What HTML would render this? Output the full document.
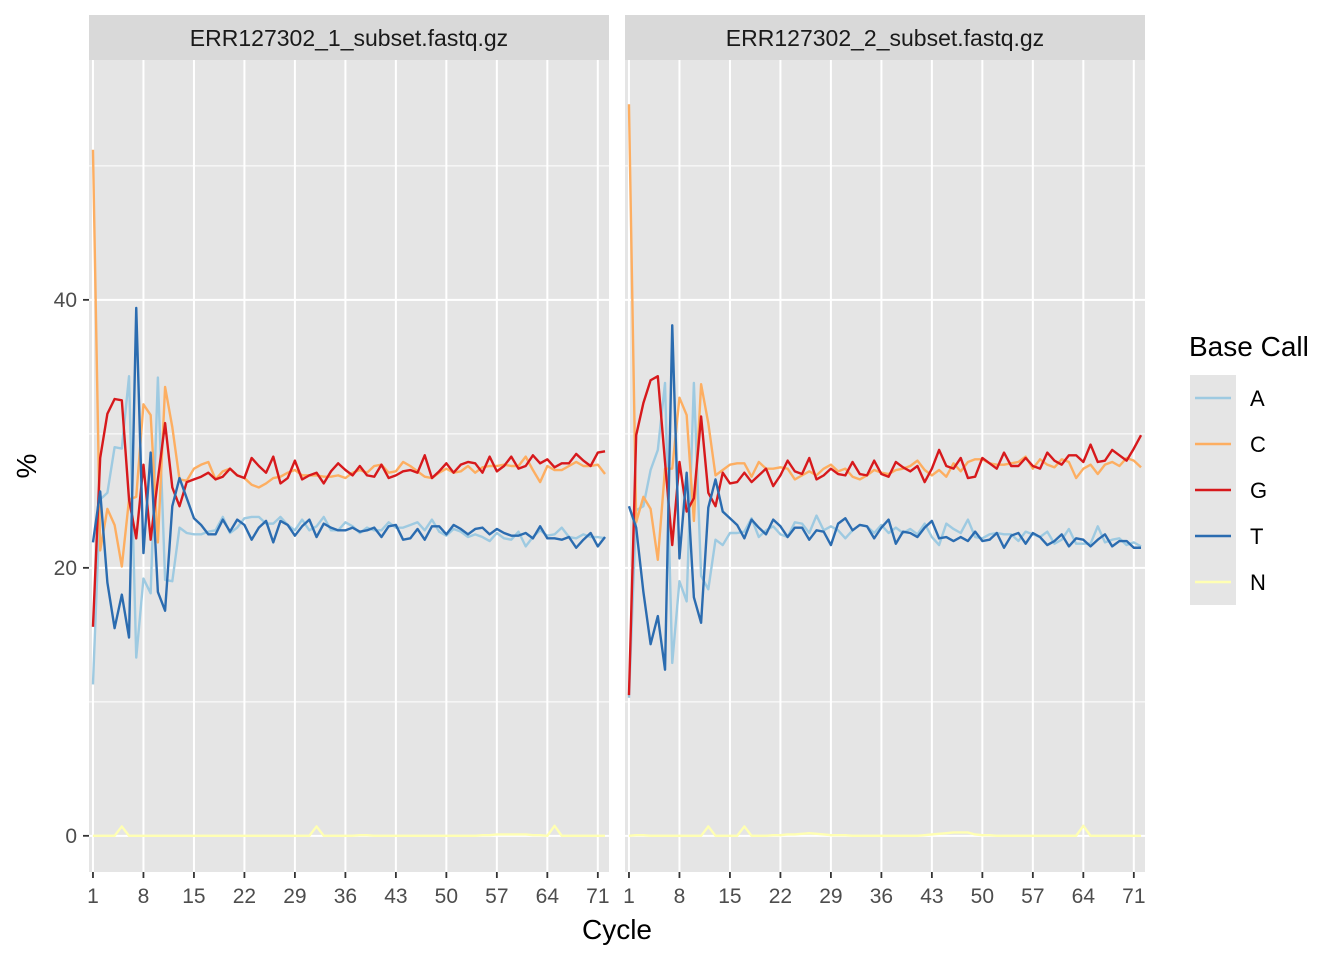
<!DOCTYPE html>
<html><head><meta charset="utf-8"><style>
body{margin:0;background:#fff;}
svg{display:block;font-family:"Liberation Sans",Arial,sans-serif;}
</style></head><body>
<svg id="chart" width="1344" height="960"></svg>
<script>
const cycles = Array.from({length:72},(_,i)=>i+1);
const panelTitles = ["ERR127302_1_subset.fastq.gz","ERR127302_2_subset.fastq.gz"];
const bases = ["A","C","G","T","N"];
const colors = ["#9ecae1","#fdae61","#d7191c","#2b6cb0","#ffffb3"];
const yTicks = [0,20,40];
const yMinor = [10,30,50];
const xTicks = [1,8,15,22,29,36,43,50,57,64,71];

const leftA = [11.3,25.1,25.6,29.0,28.9,34.3,13.3,19.2,18.1,34.2,19.1,19.0,23.0,22.6,22.5,22.5,22.7,
22.8,23.8,22.6,23.0,23.7,23.8,23.8,23.3,23.3,23.8,23.2,22.8,23.6,22.8,23.1,23.8,22.8,22.8,23.4,23.1,22.6,23.0,22.8,22.8,23.4,23.0,23.0,
23.2,23.4,22.8,23.6,22.7,22.4,22.9,22.7,22.3,22.5,22.3,22.0,22.6,22.2,22.1,22.7,21.6,22.3,22.8,22.4,22.5,23.0,22.3,22.2,22.5,22.3,22.3,22.2];
const leftC = [51.2,21.3,24.4,23.2,20.1,25.1,25.3,32.2,31.4,21.9,33.5,30.5,26.6,26.5,27.4,27.7,27.9,
26.6,27.2,27.4,26.9,26.7,26.2,26.0,26.3,26.7,26.8,27.1,27.3,26.9,26.9,26.9,26.8,26.8,26.9,26.7,27.1,27.3,27.1,27.6,27.7,27.1,27.2,27.9,
27.6,27.2,26.8,26.7,27.1,27.4,27.1,27.2,27.6,27.1,27.5,27.6,27.6,27.7,27.6,27.6,28.3,27.3,26.4,27.6,27.3,27.3,27.6,27.9,27.6,27.6,27.7,27.0];
const leftG = [15.6,28.2,31.5,32.6,32.5,25.1,22.2,27.7,22.1,26.6,30.8,26.0,24.6,26.4,26.6,26.8,27.1,
26.6,26.8,27.4,26.9,26.7,28.2,27.6,27.1,28.3,26.3,26.7,28.0,26.6,26.9,27.1,26.3,27.2,27.8,27.3,26.9,27.6,26.9,26.8,27.7,26.7,26.9,27.2,
27.3,27.1,28.4,26.7,27.2,27.8,27.1,27.7,27.9,27.8,27.1,28.3,27.2,27.6,28.3,27.4,27.6,28.4,27.8,28.1,27.5,27.8,27.8,28.5,28.0,27.6,28.6,28.7];
const leftT = [21.9,25.7,18.9,15.5,18.0,14.8,39.4,21.1,28.6,18.2,16.8,24.6,26.7,25.2,23.7,23.2,22.5,
22.5,23.6,22.7,23.6,23.2,22.1,23.0,23.5,21.9,23.5,23.2,22.4,23.1,23.6,22.3,23.3,23.0,22.8,22.8,23.0,22.7,22.8,23.0,22.3,23.1,23.2,22.1,
22.2,22.9,22.1,23.1,23.1,22.5,23.2,22.9,22.5,22.9,23.0,22.5,22.9,22.6,22.4,22.4,22.6,22.2,23.1,22.2,22.2,22.1,22.3,21.5,22.1,22.6,21.6,22.3];
const leftN = [0,0,0,0,0.7,0,0,0,0,0,0,0,0,0,0,0,0,0,0,0,0,0,0,0,0,0,0,0,0,0,0,0.7,0,0,0,0,0,0.05,0.05,0,0,0,0,0,0,0,0,0,0,0,0,0,0,0,0.05,0.05,0.1,0.1,0.1,0.1,0.1,0.05,0.05,0,0.75,0,0,0,0,0,0,0];

const rightA = [10.3,24.3,24.6,27.3,28.8,33.8,12.9,19.0,17.5,33.8,19.4,18.4,22.1,21.7,22.6,22.6,22.7,
23.7,22.3,22.8,23.1,22.5,22.3,23.4,23.3,22.6,23.9,22.8,23.1,22.8,22.2,22.8,23.2,23.1,22.6,23.2,22.6,23.0,22.6,22.9,22.5,23.3,22.3,21.7,
23.3,22.9,22.6,23.6,22.3,22.2,22.5,22.6,22.5,22.5,22.0,22.7,22.5,22.3,22.7,21.8,22.1,22.9,21.8,21.8,21.8,23.1,21.9,22.1,22.2,21.7,21.9,21.6];
const rightC = [54.6,23.4,25.3,24.4,20.6,27.4,27.4,32.7,31.4,23.5,33.7,30.8,26.9,27.3,27.7,27.8,27.8,
26.8,27.9,27.4,27.4,27.5,27.4,26.6,26.9,27.2,26.9,27.4,27.7,27.2,27.4,26.8,26.6,26.9,27.3,27.1,27.0,27.3,27.4,27.6,28.0,27.3,26.9,27.3,
26.8,27.8,27.2,27.9,28.1,28.1,27.8,27.7,27.7,27.8,27.9,28.3,27.4,28.1,27.7,27.5,28.1,27.9,26.7,27.4,27.7,27.0,27.7,27.9,27.6,28.2,28.0,27.5];
const rightG = [10.5,29.9,32.3,34.0,34.3,27.9,21.7,27.9,24.2,25.2,31.3,25.6,24.6,27.1,26.3,26.4,27.1,
26.4,26.9,27.4,26.1,26.9,28.0,27.2,27.0,28.2,26.6,26.9,27.4,27.0,26.9,27.9,27.0,26.9,28.0,27.0,26.8,27.9,27.5,27.2,27.6,26.4,27.4,28.8,
27.6,27.4,28.2,26.7,26.8,28.2,27.8,27.4,28.6,27.6,27.6,28.2,27.6,27.4,28.6,28.0,27.7,28.4,28.4,27.9,29.2,27.9,28.0,28.8,28.4,28.0,28.9,29.9];
const rightT = [24.6,23.0,18.2,14.3,16.4,12.4,38.1,20.7,27.1,17.8,15.9,24.5,26.6,24.2,23.7,23.2,22.2,
23.6,23.0,22.5,23.6,23.1,22.3,23.0,23.0,22.1,22.8,22.7,21.7,23.3,23.7,22.8,23.2,23.1,22.2,23.0,23.6,21.8,22.7,22.6,22.3,23.0,23.5,22.2,
22.3,22.0,22.3,22.0,22.7,22.0,22.1,22.6,21.5,22.4,22.6,21.8,22.6,22.3,21.7,22.0,22.5,21.6,22.2,22.1,21.6,22.1,22.5,21.6,22.0,22.0,21.5,21.5];
const rightN = [0,0.05,0.05,0,0,0,0,0,0,0,0,0.7,0,0,0,0,0.7,0,0,0,0.05,0.05,0.1,0.1,0.15,0.2,0.15,0.1,0.05,0.05,0.05,0,0,0,0,0,0,0,0,0,0,0.05,0.1,0.15,0.2,0.25,0.25,0.25,0.1,0.05,0.05,0,0,0,0,0,0,0,0,0,0,0,0,0.75,0,0,0,0,0,0,0,0];

const panelSeries = [[leftA,leftC,leftG,leftT,leftN],[rightA,rightC,rightG,rightT,rightN]];

const NS="http://www.w3.org/2000/svg";
const svg=document.getElementById('chart');
function mk(tag,attrs,parent){const e=document.createElementNS(NS,tag);for(const k in attrs)e.setAttribute(k,attrs[k]);(parent||svg).appendChild(e);return e;}

const panelX=[89,625], panelW=520, plotTop=60, plotBottom=872;
const xMin=0.45, xMax=72.55, yMin=-2.7, yMax=57.9;
function xs(p,v){return panelX[p]+(v-xMin)/(xMax-xMin)*panelW;}
function ys(v){return plotBottom-(v-yMin)/(yMax-yMin)*(plotBottom-plotTop);}

for(let p=0;p<2;p++){
  const g=mk('g',{});
  
  
  const bg=mk('rect',{x:panelX[p],y:plotTop,width:panelW,height:plotBottom-plotTop,fill:'#e5e5e5'},g);
  
  
  yMinor.forEach(v=>{mk('line',{x1:panelX[p],x2:panelX[p]+panelW,y1:ys(v),y2:ys(v),stroke:'#fff','stroke-width':1},g);});
  yTicks.forEach(v=>{mk('line',{x1:panelX[p],x2:panelX[p]+panelW,y1:ys(v),y2:ys(v),stroke:'#fff','stroke-width':2},g);});
  xTicks.forEach(v=>{mk('line',{x1:xs(p,v),x2:xs(p,v),y1:plotTop,y2:plotBottom,stroke:'#fff','stroke-width':2},g);
    mk('line',{x1:xs(p,v),x2:xs(p,v),y1:plotBottom,y2:plotBottom+6,stroke:'#333','stroke-width':1.8},g);
    const t=mk('text',{x:xs(p,v),y:plotBottom+31,'text-anchor':'middle','font-size':21,fill:'#4d4d4d'},g);t.textContent=v;
    
    
  });
  const s=mk('rect',{x:panelX[p],y:15,width:panelW,height:45,fill:'#d9d9d9'},g);
  
  
  const st=mk('text',{x:panelX[p]+panelW/2,y:46,'text-anchor':'middle','font-size':23,fill:'#1a1a1a'},g);
  st.textContent=panelTitles[p];
  
  
  for(let b=0;b<5;b++){
    const d=panelSeries[p][b].map((v,i)=>(i?'L':'M')+xs(p,cycles[i]).toFixed(2)+','+ys(v).toFixed(2)).join('');
    const path=mk('path',{d:d,fill:'none',stroke:colors[b],'stroke-width':2.4,'stroke-linejoin':'round'},g);
    
    
  }
}
yTicks.forEach(v=>{
  mk('line',{x1:83,x2:89,y1:ys(v),y2:ys(v),stroke:'#333','stroke-width':1.8});
  const t=mk('text',{x:77,y:ys(v)+7,'text-anchor':'end','font-size':21,fill:'#4d4d4d'});t.textContent=v;
  
  
});
const xt=mk('text',{x:617,y:939,'text-anchor':'middle','font-size':28,fill:'#000'});xt.textContent='Cycle';


const yt=mk('text',{x:36,y:466,'text-anchor':'middle','font-size':28,fill:'#000',transform:'rotate(-90 36 466)'});yt.textContent='%';


const lg=mk('g',{});


const lt=mk('text',{x:1189,y:356,'font-size':28,fill:'#000'},lg);lt.textContent='Base Call';


for(let b=0;b<5;b++){
  const cy=398+46*b;
  const e=mk('g',{},lg);
  
  
  mk('rect',{x:1190,y:cy-23,width:46,height:46,fill:'#e5e5e5'},e);
  mk('line',{x1:1195,x2:1231,y1:cy,y2:cy,stroke:colors[b],'stroke-width':2.4},e);
  const t=mk('text',{x:1250,y:cy+8,'font-size':22,fill:'#000'},e);t.textContent=bases[b];
}
</script>
</body></html>
